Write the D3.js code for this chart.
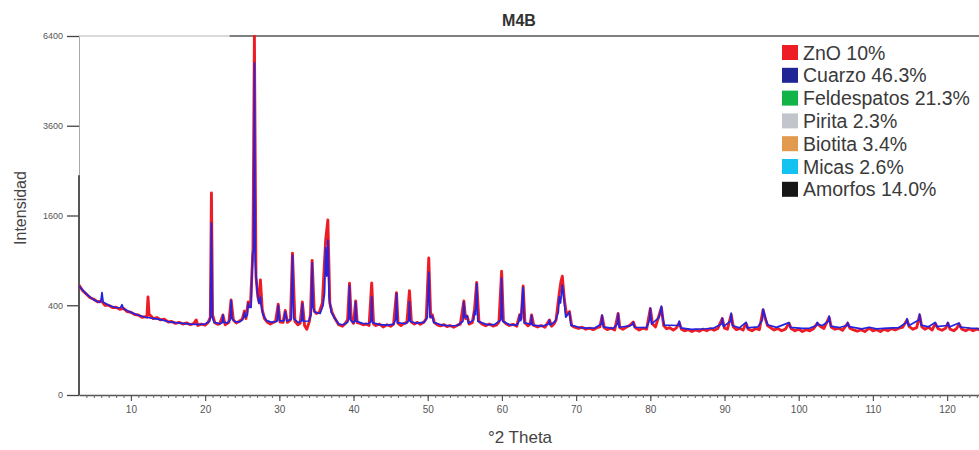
<!DOCTYPE html>
<html>
<head>
<meta charset="utf-8">
<script src="https://cdn.jsdelivr.net/npm/d3@7"></script>
<style>
  body { margin: 0; background: #fff; }
  svg text { font-family: "Liberation Sans", Arial, sans-serif; }
</style>
</head>
<body>
<div id="chart"></div>
<script>
// observed pattern (red), [2theta, counts]
var observed = [
  [3,600],[3.5,540],[4,505],[4.5,470],[5,455],[5.5,430],[6,440],[6.5,400],[7,400],[7.5,380],[8,382],[8.5,365],[9,372],[9.5,345],
  [10,340],[10.5,322],[11,318],[11.5,300],[12,305],[12.15,300],[12.3,477],[12.45,320],[12.7,310],[13,290],[13.5,298],[14,280],[14.5,285],
  [15,265],[15.5,268],[16,255],[16.5,262],[17,250],[17.5,258],[18,245],[18.5,255],[18.8,280],[19,240],[19.5,250],[20,242],[20.4,262],
  [20.7,300],[20.85,2026],[21,320],[21.3,260],[21.7,248],[22,255],[22.4,318],[22.7,245],[23,255],[23.2,262],[23.5,448],[23.8,280],
  [24.2,258],[24.6,270],[25,285],[25.3,350],[25.5,290],[25.8,430],[26.1,390],[26.45,1050],[26.64,6400],[26.85,700],[27.1,480],
  [27.3,420],[27.45,656],[27.7,360],[28,290],[28.4,262],[28.8,250],[29.2,262],[29.5,270],[29.85,410],[30.1,265],[30.5,262],
  [30.8,355],[31.1,262],[31.5,280],[31.77,1000],[32.1,270],[32.5,245],[32.8,255],[33.1,430],[33.4,240],[33.7,215],[34,260],
  [34.2,320],[34.42,900],[34.7,350],[35,330],[35.4,340],[35.8,420],[36.25,1200],[36.54,1520],[36.8,420],[37.1,340],[37.5,290],
  [38,245],[38.5,235],[38.9,255],[39.2,280],[39.46,620],[39.7,280],[40,255],[40.29,440],[40.5,260],[40.9,255],[41.3,245],
  [41.7,250],[42.1,240],[42.45,623],[42.7,250],[43,240],[43.5,250],[44,230],[44.5,245],[45,235],[45.4,250],[45.79,520],
  [46,255],[46.4,240],[46.8,255],[47.2,262],[47.54,540],[47.8,265],[48.2,250],[48.6,262],[49,248],[49.5,265],[49.8,290],
  [50.14,932],[50.4,300],[50.6,320],[50.9,260],[51.3,245],[51.7,238],[52.2,245],[52.6,232],[53,240],[53.5,228],[54,242],
  [54.4,250],[54.87,440],[55.1,290],[55.3,310],[55.6,250],[56,260],[56.3,360],[56.6,630],[56.9,270],[57.3,250],[57.8,238],
  [58.3,250],[58.8,236],[59.3,245],[59.6,265],[59.96,760],[60.2,270],[60.6,250],[61,240],[61.5,248],[62,235],[62.4,320],
  [62.6,290],[62.86,590],[63.1,260],[63.5,238],[63.8,250],[64,318],[64.3,240],[64.8,230],[65.3,240],[65.8,228],[66.4,280],
  [66.7,235],[67,250],[67.3,280],[67.74,520],[67.96,640],[68.14,700],[68.4,460],[68.7,320],[69.1,345],[69.4,240],[69.8,228],
  [70.3,220],[70.8,228],[71.3,215],[71.8,222],[72.3,212],[72.8,225],[73.2,230],[73.5,310],[73.8,225],[74.2,212],[74.7,222],
  [75.2,210],[75.66,330],[75.9,225],[76.3,215],[76.8,230],[77.2,240],[77.7,265],[78,225],[78.5,210],[79,222],[79.5,215],
  [80,370],[80.3,250],[80.7,230],[81.1,300],[81.5,380],[81.8,240],[82.2,218],[82.6,225],[83.1,210],[83.5,222],[83.9,260],
  [84.2,215],[84.6,205],[85.1,212],[85.6,200],[86.1,210],[86.6,202],[87.1,215],[87.6,205],[88.1,218],[88.6,208],[89.1,220],
  [89.7,290],[90,222],[90.4,215],[90.9,320],[91.2,230],[91.6,212],[92.1,220],[92.5,210],[92.9,255],[93.2,215],[93.7,205],
  [94.2,220],[94.7,212],[95.2,360],[95.5,290],[95.8,240],[96.2,225],[96.7,210],[97.2,220],[97.7,205],[98.2,215],[98.7,255],
  [99,218],[99.5,205],[100,215],[100.5,200],[101,212],[101.5,205],[102,218],[102.5,255],[102.9,235],[103.4,220],[104.1,300],
  [104.4,228],[104.9,215],[105.4,222],[105.9,208],[106.6,255],[106.9,222],[107.4,210],[107.9,202],[108.4,212],[108.9,200],
  [109.5,222],[110,205],[110.5,212],[111,200],[111.5,215],[112,205],[112.5,218],[113,210],[113.5,222],[114,228],[114.6,280],
  [114.9,232],[115.4,215],[115.9,225],[116.3,315],[116.6,230],[117,215],[117.5,228],[118,210],[118.4,255],[118.8,218],
  [119.3,208],[119.8,222],[120.1,255],[120.4,215],[120.9,205],[121.3,220],[121.6,250],[122,215],[122.5,205],[123,218],
  [123.5,205],[124,215],[124.5,208]
];

// calculated pattern (blue)
var calculated = [
  [3,590],[4,505],[5,450],[5.8,425],[5.95,440],[6.1,520],[6.25,430],[7,400],[8,378],[8.6,380],[8.8,405],[9,370],[10,338],
  [11,316],[12,300],[13,292],[14,282],[15,268],[16,260],[17,255],[18,250],[19,248],[20,250],[20.6,270],[20.72,300],[20.85,1468],
  [20.98,300],[21.2,262],[22,252],[22.3,260],[22.4,318],[22.5,262],[23,258],[23.38,280],[23.5,445],[23.62,290],[24,268],
  [24.6,265],[25,280],[25.2,300],[25.3,340],[25.45,300],[25.7,320],[25.8,420],[25.95,380],[26.2,380],[26.4,1000],[26.55,1050],
  [26.64,5470],[26.75,900],[26.9,650],[27.05,520],[27.25,420],[27.38,440],[27.45,476],[27.55,400],[27.8,320],[28.3,275],
  [29,262],[29.7,270],[29.85,400],[30,275],[30.6,272],[30.8,345],[31,272],[31.6,285],[31.77,970],[31.92,290],[32.6,260],
  [33,275],[33.1,415],[33.22,270],[34,272],[34.3,330],[34.42,870],[34.55,380],[34.8,340],[35.5,330],[35.9,400],[36.1,520],
  [36.25,1080],[36.4,700],[36.54,1193],[36.7,480],[37,340],[37.5,290],[38,250],[38.6,245],[39.2,262],[39.35,290],[39.46,595],
  [39.58,280],[40,260],[40.2,270],[40.29,430],[40.4,270],[41.2,255],[42,252],[42.35,270],[42.45,480],[42.55,260],[43.5,246],
  [44.5,242],[45.4,248],[45.7,290],[45.79,510],[45.9,260],[47,252],[47.45,275],[47.54,430],[47.65,268],[48.5,256],[49.5,262],
  [49.95,300],[50.14,751],[50.3,300],[50.6,310],[50.8,262],[52,242],[53,238],[54,240],[54.75,270],[54.87,430],[55,300],
  [55.3,310],[55.5,255],[56.2,280],[56.3,350],[56.45,320],[56.6,615],[56.75,270],[58,246],[59,246],[59.85,280],[59.96,680],
  [60.1,270],[61,246],[62,242],[62.3,270],[62.4,318],[62.55,275],[62.86,575],[63,258],[63.9,250],[64,315],[64.1,242],
  [65.5,236],[66.3,250],[66.4,278],[66.5,242],[67.2,270],[67.6,340],[67.74,480],[67.9,420],[68.14,600],[68.35,470],[68.6,300],
  [69.1,340],[69.3,242],[70.5,226],[71.5,222],[72.5,223],[73.4,250],[73.5,318],[73.65,230],[75,221],[75.55,250],[75.66,330],
  [75.8,228],[77,235],[77.6,245],[77.7,262],[77.85,228],[79.5,226],[79.9,280],[80,376],[80.15,250],[81.2,300],[81.5,393],
  [81.65,300],[81.9,242],[83.8,240],[83.9,272],[84.1,224],[85.5,214],[87.5,218],[88.5,222],[89.6,250],[89.7,294],[89.85,232],
  [90.8,270],[90.9,334],[91.05,240],[92,224],[92.9,262],[93.05,224],[94.5,230],[95.1,280],[95.2,367],[95.5,300],[95.8,245],
  [97,227],[98.7,260],[98.85,227],[100.5,220],[101.5,222],[102.4,240],[102.5,262],[102.7,245],[103.2,240],[104,270],
  [104.1,310],[104.3,236],[105.5,226],[106.5,240],[106.6,262],[106.8,232],[108.5,217],[109.5,228],[110.5,217],[112,222],
  [113.5,226],[114.5,260],[114.6,290],[114.8,238],[116.2,280],[116.3,326],[116.5,242],[117.5,231],[118.4,262],[118.6,232],
  [120,240],[120.1,262],[120.3,229],[121.6,258],[121.8,229],[123,223],[124.3,219]
];

// dark marker at the start of the scan
var amorfosEdge = [[3,0],[3,2400]];

var yTicks = [0, 400, 1600, 3600, 6400];
var xTicks = [10, 20, 30, 40, 50, 60, 70, 80, 90, 100, 110, 120];

var phases = ["ZnO 10%", "Cuarzo 46.3%", "Feldespatos 21.3%", "Pirita 2.3%", "Biotita 3.4%", "Micas 2.6%", "Amorfos 14.0%"];
var phaseColors = ["#ee1c24", "#1f2595", "#12b347", "#c2c6cc", "#e29a4e", "#14c3ef", "#161616"];

var W = 979, H = 450;
var m = {left: 79, right: 979, top: 36, bottom: 395};

var svg = d3.select("#chart").append("svg")
    .attr("width", W)
    .attr("height", H);

var x = d3.scaleLinear().domain([3, 124.3]).range([m.left, m.right]);
var y = d3.scaleSqrt().domain([0, 6400]).range([m.bottom, m.top]);

svg.append("defs").append("clipPath").attr("id", "plotclip")
  .append("rect")
    .attr("x", m.left).attr("y", m.top - 1)
    .attr("width", m.right - m.left).attr("height", m.bottom - m.top + 1);

// top frame line (lighter on the left part)
svg.append("line")
    .attr("x1", x(3)).attr("x2", x(23.3))
    .attr("y1", y(6400)).attr("y2", y(6400))
    .attr("stroke", "#b5b5b5").attr("stroke-width", 1.2);
svg.append("line")
    .attr("x1", x(23.3)).attr("x2", x(124.3))
    .attr("y1", y(6400)).attr("y2", y(6400))
    .attr("stroke", "#555").attr("stroke-width", 1.5);

// y axis
var yAxis = svg.append("g")
    .attr("transform", "translate(" + m.left + ",0)")
    .call(d3.axisLeft(y).tickValues(yTicks).tickFormat(d3.format("d")).tickSize(12).tickPadding(4).tickSizeOuter(0));
yAxis.select(".domain").attr("stroke", "#a8a8a8").attr("stroke-width", 1);
yAxis.selectAll(".tick line").attr("stroke", "#444").attr("stroke-width", 1.3);
yAxis.selectAll(".tick text").attr("fill", "#555").style("font-size", "9px");

var line = d3.line().x(function(d) { return x(d[0]); }).y(function(d) { return y(d[1]); });

svg.append("path")
    .datum(amorfosEdge)
    .attr("d", line)
    .attr("stroke", "#555").attr("stroke-width", 2).attr("fill", "none");

// x axis: minor ticks every degree, labels every 10
var minor = d3.range(4, 125, 1);
var xMinor = svg.append("g")
    .attr("transform", "translate(0," + m.bottom + ")")
    .call(d3.axisBottom(x).tickValues(minor).tickSize(3).tickFormat("").tickSizeOuter(0));
xMinor.select(".domain").attr("stroke", "#555").attr("stroke-width", 1.5);
xMinor.selectAll(".tick line").attr("stroke", "#666");

var xAxis = svg.append("g")
    .attr("transform", "translate(0," + m.bottom + ")")
    .call(d3.axisBottom(x).tickValues(xTicks).tickSize(6).tickPadding(5).tickSizeOuter(0));
xAxis.select(".domain").remove();
xAxis.selectAll(".tick line").attr("stroke", "#555").attr("stroke-width", 1.2);
xAxis.selectAll(".tick text").attr("fill", "#555").style("font-size", "10px");

// patterns
var plot = svg.append("g").attr("clip-path", "url(#plotclip)");
plot.append("path")
    .datum(observed)
    .attr("d", line)
    .attr("fill", "none")
    .attr("stroke", "#ee1c24")
    .attr("stroke-width", 2.9)
    .attr("stroke-linejoin", "round");
plot.append("path")
    .datum(calculated)
    .attr("d", line)
    .attr("fill", "none")
    .attr("stroke", "#2424e0")
    .attr("stroke-width", 1.7)
    .attr("stroke-linejoin", "round");

// title and axis labels
svg.append("text")
    .attr("x", 519).attr("y", 26)
    .attr("text-anchor", "middle")
    .style("font-size", "16px").style("font-weight", "bold")
    .attr("fill", "#333")
    .text("M4B");

svg.append("text")
    .attr("x", 520).attr("y", 443)
    .attr("text-anchor", "middle")
    .style("font-size", "17px")
    .attr("fill", "#444")
    .text("°2 Theta");

svg.append("text")
    .attr("transform", "translate(26,208) rotate(-90)")
    .attr("text-anchor", "middle")
    .style("font-size", "16px")
    .attr("fill", "#444")
    .text("Intensidad");

// legend
var legend = svg.append("g").attr("transform", "translate(782,45)");
var rows = legend.selectAll("g").data(phases).enter().append("g")
    .attr("transform", function(d, i) { return "translate(0," + (i * 22.8) + ")"; });
rows.append("rect")
    .attr("width", 16).attr("height", 15)
    .attr("fill", function(d, i) { return phaseColors[i]; });
rows.append("text")
    .attr("x", 21).attr("y", 14.5)
    .style("font-size", "19.5px")
    .attr("fill", "#3a3a3a")
    .text(function(d) { return d; });
</script>
</body>
</html>
